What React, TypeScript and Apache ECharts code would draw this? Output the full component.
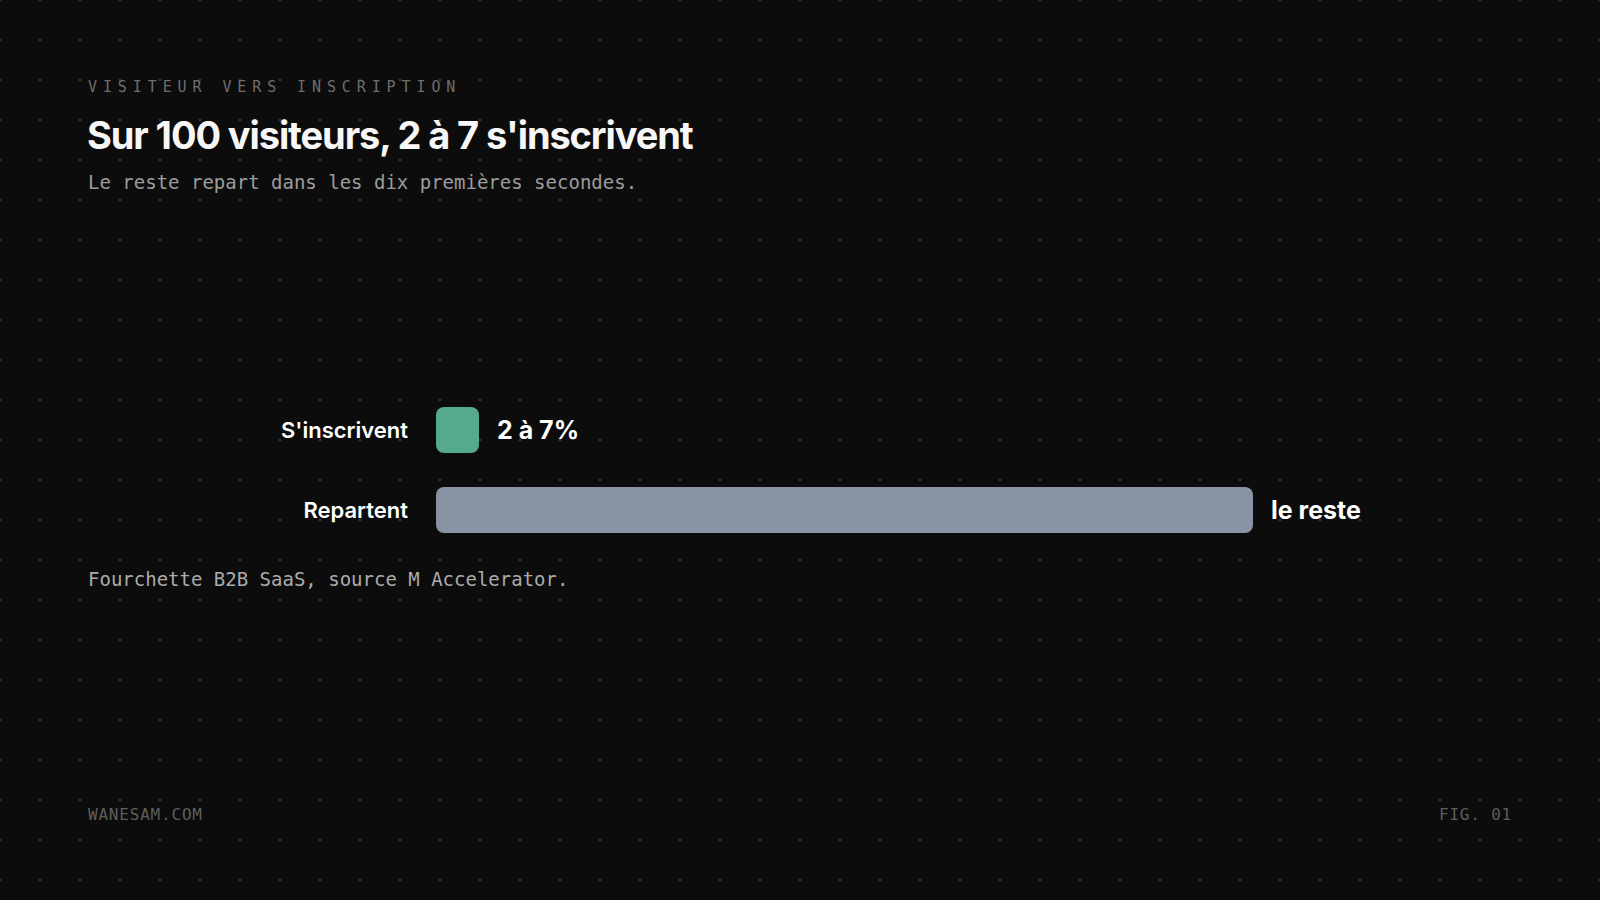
import React, { useEffect, useRef } from "react";
import * as echarts from "echarts";

const categories = ["S'inscrivent", "Repartent"];
const values = [5, 95];
const valueLabels = ["2 à 7%", "le reste"];
const barColors = ["#55a98c", "#8a93a3"];
const xMax = 100;

const eyebrow = "VISITEUR VERS INSCRIPTION";
const titleText = "Sur 100 visiteurs, 2 à 7 s'inscrivent";
const subtitleText = "Le reste repart dans les dix premières secondes.";
const noteText = "Fourchette B2B SaaS, source M Accelerator.";
const footerLeft = "WANESAM.COM";
const footerRight = "FIG. 01";

const MONO = "'DejaVu Sans Mono', 'Liberation Mono', monospace";
const SANS = "Inter, 'Noto Sans', sans-serif";

function txt(text: string, x: number, y: number, font: string, fill: string) {
  return {
    type: "text",
    x,
    y,
    silent: true,
    style: { text, fill, font, align: "left", verticalAlign: "middle" },
  };
}

export default function App() {
  const ref = useRef<HTMLDivElement>(null);
  useEffect(() => {
    document.body.style.margin = "0";
    const chart = echarts.init(ref.current!, undefined, { renderer: "svg" });
    chart.setOption({
      animation: false,
      backgroundColor: "transparent",
      grid: { left: 436, right: 304, top: 390, height: 160, containLabel: false },
      xAxis: {
        type: "value",
        min: 0,
        max: xMax,
        show: false,
      },
      yAxis: {
        type: "category",
        data: categories,
        inverse: true,
        axisLine: { show: false },
        axisTick: { show: false },
        splitLine: { show: false },
        axisLabel: {
          color: "#ffffff",
          fontFamily: SANS,
          fontWeight: 600,
          fontSize: 22,
          margin: 28,
        },
      },
      series: [
        {
          type: "bar",
          barWidth: 46,
          data: values.map((v, i) => ({
            value: v,
            itemStyle: { color: barColors[i], borderRadius: 8 },
            label: { formatter: valueLabels[i] },
          })),
          label: {
            show: true,
            position: "right",
            distance: 18,
            color: "#ffffff",
            fontFamily: SANS,
            fontWeight: 700,
            fontSize: 25,
          },
        },
      ],
      graphic: [
        txt(eyebrow, 88, 87, `15px ${MONO}; letter-spacing: 5.9px`, "#6e6e6e"),
        txt(titleText, 87, 135, `700 38px ${SANS}; letter-spacing: -1.1px`, "#f7f7f7"),
        txt(subtitleText, 88, 182, `19px ${MONO}`, "#9c9c9c"),
        txt(noteText, 88, 579, `19px ${MONO}`, "#ababab"),
        txt(footerLeft, 88, 814, `16px ${MONO}; letter-spacing: 0.8px`, "#5e5e5e"),
        txt(footerRight, 1439, 814, `16px ${MONO}; letter-spacing: 0.8px`, "#5e5e5e"),
      ],
    });
    return () => chart.dispose();
  }, []);
  return (
    <div
      style={{
        position: "fixed",
        left: 0,
        top: 0,
        width: 1600,
        height: 900,
        backgroundColor: "#0c0c0c",
        backgroundImage: "radial-gradient(circle, #3a3a3a 1px, transparent 1.6px)",
        backgroundSize: "40px 40px",
        backgroundPosition: "-20px -20px",
      }}
    >
      <div ref={ref} style={{ width: 1600, height: 900 }} />
    </div>
  );
}
